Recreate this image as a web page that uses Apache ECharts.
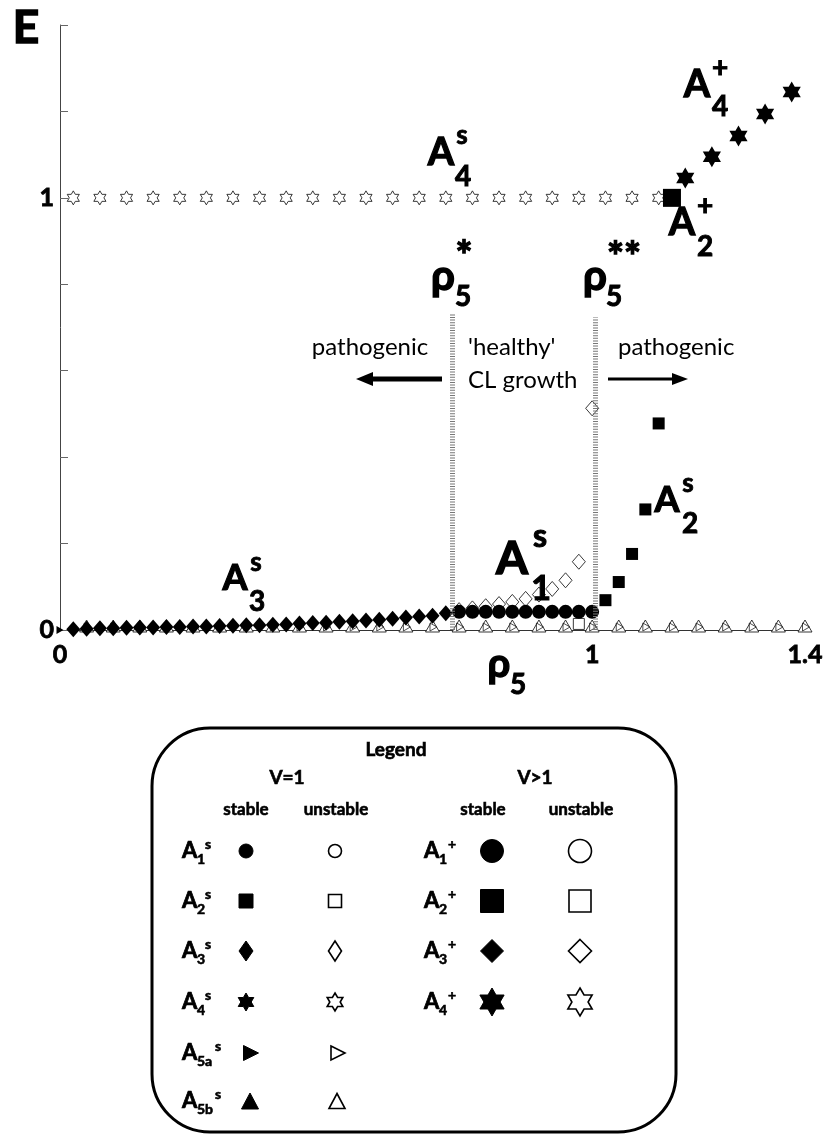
<!DOCTYPE html>
<html><head><meta charset="utf-8">
<script src="https://cdn.jsdelivr.net/npm/echarts@6/dist/echarts.min.js"></script>
<style>html,body{margin:0;padding:0;background:#fff;}#c{width:829px;height:1136px;}</style>
</head><body><div id="c"></div>
<script>
// ---------- data ----------
const xTickLabels = ['0', '1', '1.4'];
const yTickLabels = ['0', '1'];

// A4s unstable (open stars, V=1)
const a4sUnstableX = [0.025,0.075,0.125,0.175,0.225,0.275,0.325,0.375,0.425,0.475,0.525,0.575,0.625,0.675,0.725,0.775,0.825,0.875,0.925,0.975,1.025,1.075,1.125];
const a4sUnstableY = [1,1,1,1,1,1,1,1,1,1,1,1,1,1,1,1,1,1,1,1,1,1,1];
// A3s stable (filled diamonds)
const a3sStableX = [0.025,0.05,0.075,0.1,0.125,0.15,0.175,0.2,0.225,0.25,0.275,0.3,0.325,0.35,0.375,0.4,0.425,0.45,0.475,0.5,0.525,0.55,0.575,0.6,0.625,0.65,0.675,0.7,0.725];
const a3sStableY = [0.002,0.003,0.004,0.004,0.005,0.006,0.006,0.007,0.007,0.008,0.008,0.009,0.010,0.011,0.011,0.012,0.013,0.015,0.016,0.017,0.019,0.020,0.022,0.024,0.026,0.029,0.031,0.033,0.039];
// A1s stable (filled circles)
const a1sStableX = [0.75,0.775,0.8,0.825,0.85,0.875,0.9,0.925,0.95,0.975,1.0];
const a1sStableY = [0.042,0.042,0.042,0.042,0.042,0.042,0.042,0.042,0.042,0.042,0.042];
// A3s unstable (open diamonds)
const a3sUnstableX = [0.75,0.775,0.8,0.825,0.85,0.875,0.9,0.925,0.95,0.975,1.0];
const a3sUnstableY = [0.046,0.050,0.055,0.060,0.065,0.072,0.082,0.095,0.115,0.158,0.513];
// A2s unstable (open square)
const a2sUnstableX = [0.975];
const a2sUnstableY = [0.014];
// A2s stable (filled squares)
const a2sStableX = [1.025,1.05,1.075,1.1,1.125];
const a2sStableY = [0.069,0.111,0.176,0.279,0.478];
// A2+ stable (big filled square)
const a2pStableX = [1.15];
const a2pStableY = [1.0];
// A4+ stable (big filled stars)
const a4pStableX = [1.175,1.225,1.275,1.325,1.375];
const a4pStableY = [1.046,1.095,1.143,1.194,1.245];
// A5b / A5a unstable (open triangles on the axis)
const a5UnstableX = [0.05,0.1,0.15,0.2,0.25,0.3,0.35,0.4,0.45,0.5,0.55,0.6,0.65,0.7,0.75,0.8,0.85,0.9,0.95,1.0,1.05,1.1,1.15,1.2,1.25,1.3,1.35,1.4];
const a5UnstableY = [0,0,0,0,0,0,0,0,0,0,0,0,0,0,0,0,0,0,0,0,0,0,0,0,0,0,0,0];
// A5a stable (small filled triangle at origin)
const a5aStableX = [0];
const a5aStableY = [0];
// critical rho5 values (dotted lines)
const rhoCritX = [0.737, 1.005];
const rhoCritTop = [0.732, 0.723];

// ---------- helpers ----------
const pairs = (xs, ys) => xs.map((x, i) => [x, ys[i]]);
const STAR = 'path://M0,-10L2.887,-5L8.66,-5L5.774,0L8.66,5L2.887,5L0,10L-2.887,5L-8.66,5L-5.774,0L-8.66,-5L-2.887,-5Z';
const RTRI = 'path://M0,0L10,6L0,12Z';
const FF = 'Lato, "Open Sans", sans-serif';
const openStyle = {color: '#fff', borderColor: '#222', borderWidth: 0.9, opacity: 1};
const fillStyle = {color: '#000', opacity: 1};

function sc(name, xs, ys, symbol, size, style, extra) {
  return Object.assign({
    name, type: 'scatter', data: pairs(xs, ys), symbol, symbolSize: size,
    symbolKeepAspect: true, itemStyle: style, silent: true, animation: false
  }, extra || {});
}

function txt(t, x, y, size, weight, align, heavy) {
  const bold = (weight || 'bold') === 'bold';
  const st = {
    text: t, x, y, font: (weight || 'bold') + ' ' + size + 'px ' + FF,
    fill: '#000', textAlign: align || 'center', textVerticalAlign: 'middle',
    align: align || 'center', verticalAlign: 'middle'};
  if (bold && heavy !== false) { st.stroke = '#000'; st.lineWidth = Math.max(0.6, size / 30); }
  return {type: 'text', silent: true, z: 100, style: st};
}

function hexPts(cx, cy, h) {
  const R = h / 2, r = R / Math.sqrt(3), pts = [];
  for (let k = 0; k < 12; k++) {
    const a = -Math.PI / 2 + k * Math.PI / 6;
    const rr = k % 2 === 0 ? R : r;
    pts.push([cx + rr * Math.cos(a), cy + rr * Math.sin(a)]);
  }
  return pts;
}
function sym(kind, cx, cy, w, h, filled) {
  const style = filled ? {fill: '#000', stroke: '#000', lineWidth: 1}
                       : {fill: '#fff', stroke: '#000', lineWidth: 1.6};
  const base = {silent: true, z: 100, style};
  if (kind === 'circle') return Object.assign(base, {type: 'circle', shape: {cx, cy, r: w / 2}});
  if (kind === 'rect') return Object.assign(base, {type: 'rect', shape: {x: cx - w / 2, y: cy - h / 2, width: w, height: h}});
  let pts;
  if (kind === 'diamond') pts = [[cx, cy - h / 2], [cx + w / 2, cy], [cx, cy + h / 2], [cx - w / 2, cy]];
  if (kind === 'star') pts = hexPts(cx, cy, h);
  if (kind === 'rtri') pts = [[cx - w / 2, cy - h / 2], [cx + w / 2, cy], [cx - w / 2, cy + h / 2]];
  if (kind === 'utri') pts = [[cx, cy - h / 2], [cx + w / 2, cy + h / 2], [cx - w / 2, cy + h / 2]];
  return Object.assign(base, {type: 'polygon', shape: {points: pts}});
}
function rowLabel(xLeft, y, sub, sup, subW) {
  return [
    txt('A', xLeft, y, 22, 'bold', 'left'),
    txt(sub, xLeft + 15, y + 8, 14, 'bold', 'left'),
    txt(sup, xLeft + 15 + subW, y - 7, 14, 'bold', 'left')
  ];
}

// ---------- annotations (pixel positions) ----------
const G = [];
G.push(txt('E', 26, 28, 46, 'bold'));
// A4s
G.push(txt('A', 441, 153, 38), txt('s', 462, 136, 26), txt('4', 463, 177, 28));
// A4+
G.push(txt('A', 697, 85, 38), txt('+', 720, 68, 28), txt('4', 720, 107, 28));
// A2+
G.push(txt('A', 682, 223, 38), txt('+', 705, 206, 28), txt('2', 705, 247, 28));
// rho5*
G.push(txt('ρ', 443, 276, 42), txt('5', 463, 297, 28), txt('*', 464, 257, 40));
// rho5**
G.push(txt('ρ', 595, 276, 42), txt('5', 614, 297, 28), txt('**', 624, 258, 40));
// A1s
G.push(txt('A', 512, 559, 46), txt('s', 540, 537, 32), txt('1', 541, 589, 34));
// A2s
G.push(txt('A', 667, 500, 36), txt('s', 688, 484, 26), txt('2', 690, 524, 28));
// A3s
G.push(txt('A', 235, 578, 36), txt('s', 256, 563, 26), txt('3', 257, 602, 28));
// x axis name rho5
G.push(txt('ρ', 499, 664, 40), txt('5', 518, 685, 28));
// region texts
G.push(txt('pathogenic', 370, 347, 24, 'normal'));
G.push(txt("'healthy'", 468, 347, 24, 'normal', 'left'));
G.push(txt('CL growth', 468, 380, 24, 'normal', 'left'));
G.push(txt('pathogenic', 618, 347, 24, 'normal', 'left'));
// arrows
G.push({type: 'line', silent: true, z: 100, shape: {x1: 442, y1: 379, x2: 368, y2: 379}, style: {stroke: '#000', lineWidth: 5}});
G.push({type: 'polygon', silent: true, z: 100, shape: {points: [[356, 379], [373, 372], [373, 386]]}, style: {fill: '#000'}});
G.push({type: 'line', silent: true, z: 100, shape: {x1: 608, y1: 379, x2: 676, y2: 379}, style: {stroke: '#000', lineWidth: 3}});
G.push({type: 'polygon', silent: true, z: 100, shape: {points: [[688, 379], [672, 373], [672, 385]]}, style: {fill: '#000'}});

// ---------- legend box ----------
G.push({type: 'rect', silent: true, z: 90, shape: {x: 152, y: 728, width: 524, height: 404, r: 58},
        style: {fill: '#fff', stroke: '#000', lineWidth: 3}});
G.push(txt('Legend', 396, 750, 19));
G.push(txt('V=1', 287, 778, 19), txt('V>1', 535, 778, 19));
G.push(txt('stable', 246, 810, 17), txt('unstable', 336, 810, 17));
G.push(txt('stable', 483, 810, 17), txt('unstable', 581, 810, 17));
const rows = [851, 901, 951, 1002, 1053, 1101];
G.push(...rowLabel(182, rows[0], '1', 's', 8));
G.push(...rowLabel(182, rows[1], '2', 's', 8));
G.push(...rowLabel(182, rows[2], '3', 's', 8));
G.push(...rowLabel(182, rows[3], '4', 's', 8));
G.push(...rowLabel(182, rows[4], '5a', 's', 18));
G.push(...rowLabel(182, rows[5], '5b', 's', 18));
G.push(...rowLabel(424, rows[0], '1', '+', 9));
G.push(...rowLabel(424, rows[1], '2', '+', 9));
G.push(...rowLabel(424, rows[2], '3', '+', 9));
G.push(...rowLabel(424, rows[3], '4', '+', 9));
// V=1 symbols
G.push(sym('circle', 246, rows[0], 14, 14, true), sym('circle', 335, rows[0], 13, 13, false));
G.push(sym('rect', 246, rows[1], 14, 14, true), sym('rect', 335, rows[1], 13, 13, false));
G.push(sym('diamond', 246, rows[2], 14, 20, true), sym('diamond', 335, rows[2], 13, 20, false));
G.push(sym('star', 246, rows[3], 16, 18, true), sym('star', 335, rows[3], 16, 18, false));
G.push(sym('rtri', 251, rows[4], 15, 15, true), sym('rtri', 338, rows[4], 14, 14, false));
G.push(sym('utri', 250, rows[5], 17, 16, true), sym('utri', 337, rows[5], 16, 15, false));
// V>1 symbols
G.push(sym('circle', 492, rows[0], 23, 23, true), sym('circle', 580, rows[0], 23, 23, false));
G.push(sym('rect', 492, rows[1], 23, 23, true), sym('rect', 580, rows[1], 22, 22, false));
G.push(sym('diamond', 492, rows[2], 23, 23, true), sym('diamond', 580, rows[2], 23, 23, false));
G.push(sym('star', 492, rows[3], 24, 28, true), sym('star', 580, rows[3], 24, 28, false));

// ---------- chart ----------
const chart = echarts.init(document.getElementById('c'), null, {renderer: 'canvas'});
const near = (a, b) => Math.abs(a - b) < 1e-6;
const axisLabelBase = {fontFamily: FF, fontWeight: 'bold', fontSize: 25, color: '#000',
                       textBorderColor: '#000', textBorderWidth: 0.8};
chart.setOption({
  animation: false,
  backgroundColor: '#fff',
  grid: {left: 60, right: 24, top: 25, bottom: 506, containLabel: false},
  xAxis: {
    type: 'value', min: 0, max: 1.4, interval: 0.2,
    axisLine: {show: true, onZero: false, lineStyle: {color: '#333', width: 1}},
    axisTick: {show: false}, splitLine: {show: false},
    axisLabel: Object.assign({}, axisLabelBase, {
      margin: 12,
      formatter: v => near(v, 0) ? xTickLabels[0] : near(v, 1) ? xTickLabels[1] : near(v, 1.4) ? xTickLabels[2] : ''
    })
  },
  yAxis: {
    type: 'value', min: 0, max: 1.4, interval: 0.2,
    axisLine: {show: true, lineStyle: {color: '#444', width: 1}},
    axisTick: {show: true, inside: true, length: 8, lineStyle: {color: '#666'}},
    splitLine: {show: false},
    axisLabel: Object.assign({}, axisLabelBase, {
      margin: 6,
      formatter: v => near(v, 0) ? yTickLabels[0] : near(v, 1) ? yTickLabels[1] : ''
    })
  },
  series: [
    sc('A5b unstable', a5UnstableX, a5UnstableY, 'triangle', [14, 12], openStyle, {
      symbolKeepAspect: false, symbolOffset: [0, -4],
      markLine: {
        silent: true, symbol: 'none', animation: false,
        label: {show: false},
        lineStyle: {type: [1, 1.6], width: 5, color: '#777', opacity: 1},
        emphasis: {disabled: true},
        data: rhoCritX.map((x, i) => [{coord: [x, 0]}, {coord: [x, rhoCritTop[i]]}])
      }
    }),
    sc('A5a unstable', a5UnstableX, a5UnstableY, RTRI, [7, 8], {color: 'rgba(255,255,255,0)', borderColor: '#222', borderWidth: 0.8, opacity: 1}, {symbolKeepAspect: false, symbolOffset: [1, -3]}),
    sc('A5a stable', a5aStableX, a5aStableY, RTRI, [7, 8], fillStyle, {symbolKeepAspect: false}),
    sc('A3s stable', a3sStableX, a3sStableY, 'diamond', [14, 16], fillStyle, {symbolKeepAspect: false}),
    sc('A4s unstable', a4sUnstableX, a4sUnstableY, STAR, 14, openStyle),
    sc('A3s unstable', a3sUnstableX, a3sUnstableY, 'diamond', [13, 15], openStyle, {symbolKeepAspect: false}),
    sc('A2s unstable', a2sUnstableX, a2sUnstableY, 'rect', 11, openStyle),
    sc('A1s stable', a1sStableX, a1sStableY, 'circle', 14, fillStyle),
    sc('A2s stable', a2sStableX, a2sStableY, 'rect', 12, fillStyle),
    sc('A2+ stable', a2pStableX, a2pStableY, 'rect', 18, fillStyle),
    sc('A4+ stable', a4pStableX, a4pStableY, STAR, 21, fillStyle)
  ],
  graphic: {elements: G}
});
</script></body></html>
